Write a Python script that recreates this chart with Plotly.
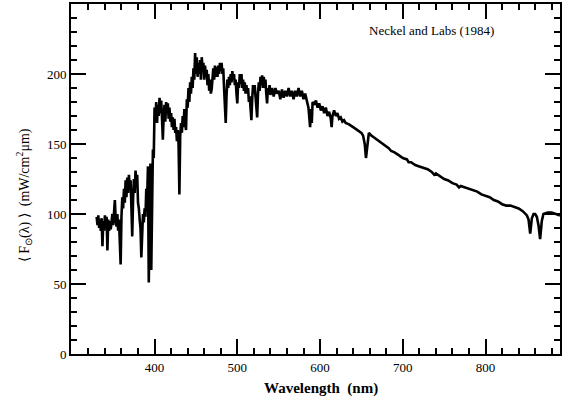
import plotly.graph_objects as go

# Wavelength (nm) and solar flux (mW/cm^2 um)
wavelength = [
    330, 331, 332, 333, 334, 335, 336, 337, 338, 339, 340, 341, 342, 343, 344, 345, 346, 347, 348, 349,
    350, 351, 352, 353, 354, 355, 356, 357, 358, 359, 360, 361, 362, 363, 364, 365, 366, 367, 368, 369,
    370, 371, 372, 373, 374, 375, 376, 377, 378, 379, 380, 381, 382, 383, 384, 385, 386, 387, 388, 389,
    390, 391, 392, 393, 394, 395, 396, 397, 398, 399,
    400, 401, 402, 403, 404, 405, 406, 407, 408, 409, 410, 411, 412, 413, 414, 415, 416, 417, 418, 419,
    420, 421, 422, 423, 424, 425, 426, 427, 428, 429, 430, 431, 432, 433, 434, 435, 436, 437, 438, 439,
    440, 441, 442, 443, 444, 445, 446, 447, 448, 449, 450, 451, 452, 453, 454, 455, 456, 457, 458, 459,
    460, 461, 462, 463, 464, 465, 466, 467, 468, 469, 470, 471, 472, 473, 474, 475, 476, 477, 478, 479,
    480, 481, 482, 483, 484, 485, 486, 487, 488, 489, 490, 491, 492, 493, 494, 495, 496, 497, 498, 499,
    500, 501, 502, 503, 504, 505, 506, 507, 508, 509, 510, 511, 512, 513, 514, 515, 516, 517, 518, 519,
    520, 521, 522, 523, 524, 525, 526, 527, 528, 529, 530, 531, 532, 533, 534, 535, 536, 537, 538, 539,
    540, 542, 544, 546, 548, 550, 552, 554, 556, 558, 560, 562, 564, 566, 568, 570, 572, 574, 576, 578,
    580, 582, 584, 586, 588, 589, 590, 591, 593, 595, 597, 599, 601, 603, 605, 607, 609, 611, 613, 614,
    615, 617, 619, 621, 623, 625, 627, 629, 631, 635, 640, 645, 650, 652, 654, 655.5, 657, 659, 662, 667,
    672, 677, 683, 686, 690, 695, 700, 705, 707, 710, 715, 720, 725, 730, 735, 738, 740, 745, 750, 755,
    760, 765, 768, 770, 775, 780, 785, 790, 795, 800, 805, 810, 815, 820, 825, 830, 835, 840, 845, 850,
    852, 854, 856, 858, 860, 862, 864, 866, 868, 870, 875, 880, 885, 890,
]
flux = [
    98, 92, 99, 90, 96, 88, 97, 77, 95, 88, 99, 90, 98, 74, 96, 88, 95, 89, 94, 100,
    92, 108, 110, 96, 91, 100, 88, 96, 80, 64, 98, 112, 104, 118, 108, 124, 112, 126, 115, 128,
    118, 124, 105, 84, 110, 125, 115, 131, 120, 128, 108, 104, 96, 90, 69, 92, 100, 94, 104, 98,
    118, 110, 134, 51, 120, 136, 60, 138, 146, 140,
    176, 168, 180, 165, 178, 170, 183, 172, 181, 168, 153, 170, 178, 166, 180, 172, 179, 168, 176, 166,
    172, 162, 169, 160, 168, 158, 162, 152, 160, 150, 114, 156, 165, 158, 170, 162, 175, 166, 160, 182,
    176, 190, 180, 194, 186, 198, 190, 204, 196, 215, 200, 212, 198, 208, 200, 210, 196, 212, 204, 208,
    196, 206, 198, 203, 192, 200, 188, 196, 186, 189, 196, 204, 196, 206, 198, 205, 198, 206, 200, 208,
    202, 208, 200, 204, 190, 180, 165, 185, 196, 190, 198, 192, 200, 194, 202, 196, 200, 192, 196, 186,
    179, 194, 190, 200, 193, 200, 190, 196, 188, 194, 186, 192, 186, 190, 180, 184, 178, 167, 182, 192,
    186, 192, 184, 178, 169, 186, 194, 188, 198, 192, 199, 190, 198, 190, 196, 186, 179, 190, 186, 192,
    185, 190, 184, 190, 186, 188, 182, 189, 183, 188, 184, 190, 184, 188, 182, 188, 184, 190, 184, 188,
    182, 186, 180, 176, 162, 175, 165, 180, 178, 181, 176, 179, 174, 177, 172, 176, 170, 173, 168, 162,
    170, 174, 170, 172, 168, 169, 166, 167, 165, 164, 162, 160, 158, 156, 150, 140, 150, 158, 156, 154,
    152, 150, 147, 145, 144, 142, 140, 139, 137, 137, 135, 134, 133, 132, 130, 128, 129, 127, 125, 124,
    122, 121, 119, 120, 119, 118, 117, 116, 114, 113, 112, 110, 109, 107, 106, 106, 105, 104, 102, 99,
    96, 86, 97, 100, 100, 98, 92, 82, 95, 100, 101, 101, 100, 99,
]

x_ticks = [400, 500, 600, 700, 800]
y_ticks = [0, 50, 100, 150, 200]

serif = "Liberation Serif"

fig = go.Figure()
fig.add_trace(go.Scatter(
    x=wavelength, y=flux, mode="lines",
    line=dict(color="black", width=2.6),
    showlegend=False, hoverinfo="skip",
))

axis_common = dict(
    showline=True, linecolor="black", linewidth=2,
    mirror="ticks", ticks="inside", ticklen=15, tickwidth=2, tickcolor="black",
    showgrid=False, zeroline=False,
    tickfont=dict(family=serif, size=13, color="black"),
)

fig.update_xaxes(
    range=[299, 890], tickvals=x_ticks,
    minor=dict(dtick=20, tick0=0, ticks="inside", ticklen=6, tickwidth=2, tickcolor="black"),
    **axis_common,
)
fig.update_yaxes(
    range=[0, 250], tickvals=y_ticks,
    minor=dict(dtick=10, tick0=0, ticks="inside", ticklen=6, tickwidth=2, tickcolor="black"),
    **axis_common,
)

fig.add_annotation(
    text="<b>Wavelength  (nm)</b>", xref="paper", yref="paper",
    x=(322 - 71) / 491, y=-(388 - 354) / 350, showarrow=False,
    xanchor="center", yanchor="middle",
    font=dict(family=serif, size=15, color="black"),
)
fig.add_annotation(
    text="⟨ F<sub>⊙</sub>(λ) ⟩  (mW/cm<sup>2</sup>μm)", xref="paper", yref="paper",
    x=(24 - 71) / 491, y=(354 - 195) / 350, showarrow=False, textangle=-90,
    xanchor="center", yanchor="middle",
    font=dict(family=serif, size=14, color="black"),
)
fig.add_annotation(
    text="Neckel and Labs (1984)", xref="paper", yref="paper",
    x=(433 - 71) / 491, y=(354 - 30) / 350, showarrow=False,
    xanchor="center", yanchor="middle",
    font=dict(family=serif, size=13, color="black"),
)

fig.update_layout(
    width=562, height=403,
    margin=dict(l=71, r=0, t=4, b=49),
    paper_bgcolor="white", plot_bgcolor="white",
)

fig.write_html("out.html")
